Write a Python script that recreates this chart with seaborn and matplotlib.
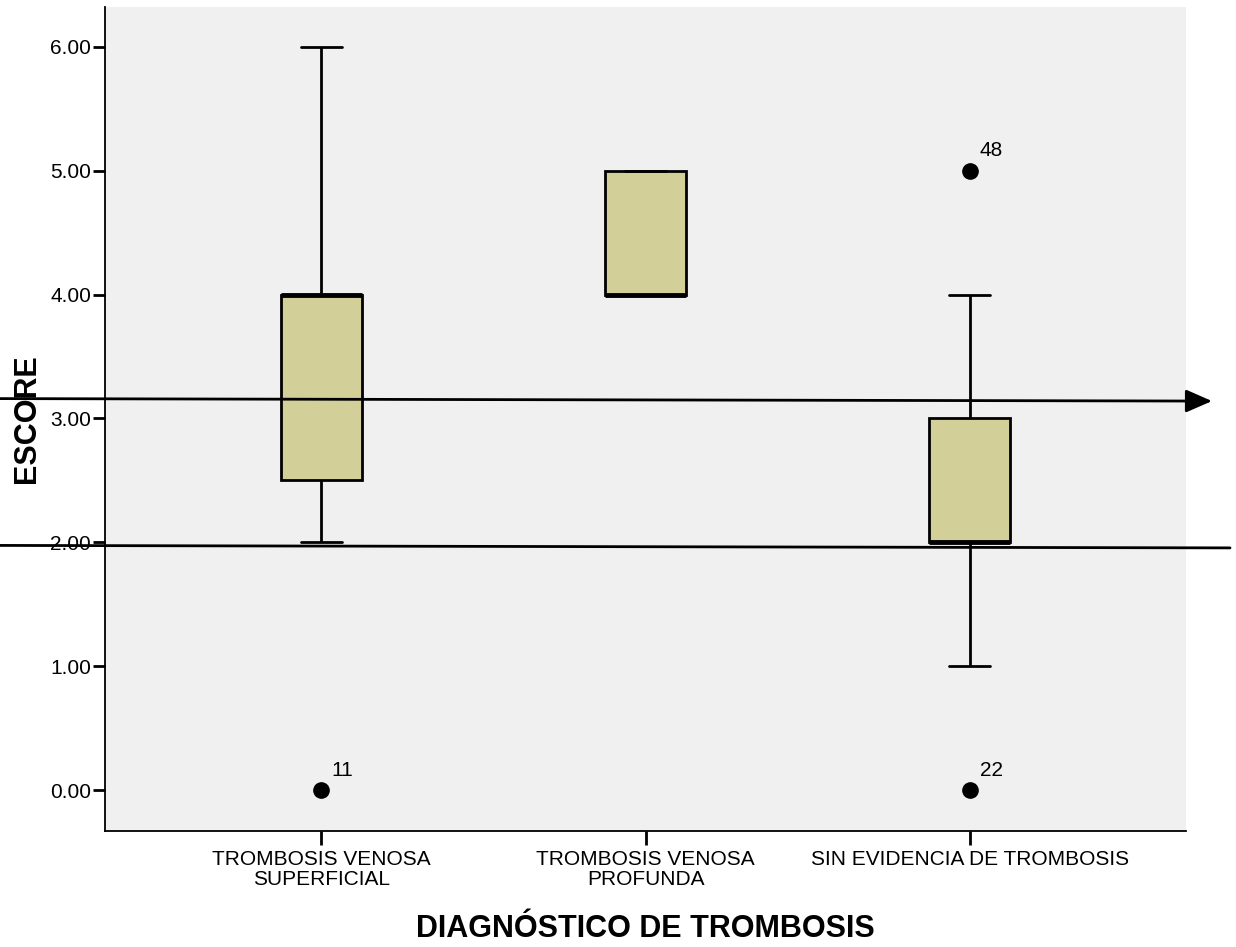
import pandas as pd
import numpy as np
import matplotlib
matplotlib.use("Agg")
import matplotlib.pyplot as plt
import matplotlib.ticker as mticker
import seaborn as sns

grupos = ["TROMBOSIS VENOSA\nSUPERFICIAL", "TROMBOSIS VENOSA\nPROFUNDA", "SIN EVIDENCIA DE TROMBOSIS"]
escore_superficial = [0, 2, 3, 4, 4, 4, 6]
escore_profunda = [4, 4, 4, 5, 5]
escore_sin_evidencia = [0, 1, 2, 2, 2, 2, 3, 3, 4, 5]

# casos atipicos etiquetados (grupo, valor, numero de caso)
atipicos_grupo = [0, 2, 2]
atipicos_valor = [0, 5, 0]
atipicos_caso = ["11", "48", "22"]

# lineas de referencia dibujadas encima (valor y a la izquierda, a la derecha)
flecha_y = [3.16, 3.14]
linea_y = [1.975, 1.955]

df = pd.DataFrame({
    "grupo": [grupos[0]] * len(escore_superficial) + [grupos[1]] * len(escore_profunda)
             + [grupos[2]] * len(escore_sin_evidencia),
    "escore": escore_superficial + escore_profunda + escore_sin_evidencia,
})

sns.set_style("white")
plt.rcParams["font.family"] = ["Liberation Sans", "DejaVu Sans"]
plt.rcParams["text.color"] = "black"
plt.rcParams["axes.labelcolor"] = "black"
plt.rcParams["xtick.color"] = "black"
plt.rcParams["ytick.color"] = "black"

fig = plt.figure(figsize=(12.36, 9.47), dpi=100)
ax = fig.add_axes([0.085, 0.1225, 0.8745, 0.870])
ax.set_facecolor("#f0f0f0")

sns.boxplot(
    data=df, x="grupo", y="escore", order=grupos, ax=ax,
    width=0.25, color="#d3cf98", saturation=1, whis=1.5,
    linecolor="black", linewidth=2,
    medianprops=dict(color="black", linewidth=3.5),
    flierprops=dict(marker="o", markerfacecolor="black", markeredgecolor="black", markersize=11),
)

for line in ax.lines:
    if line.get_marker() == "o":
        line.set_markerfacecolor("black")
        line.set_markeredgecolor("black")
        line.set_markersize(11)

for g, v, c in zip(atipicos_grupo, atipicos_valor, atipicos_caso):
    ax.annotate(c, (g, v), xytext=(10, 20), textcoords="offset pixels",
                fontsize=15, ha="left", va="center", color="black")

ax.set_xlim(-0.667, 2.667)
ax.set_ylim(-0.33, 6.32)
ax.yaxis.set_major_locator(mticker.MultipleLocator(1))
ax.yaxis.set_major_formatter(mticker.FormatStrFormatter("%.2f"))

for s in ["top", "right"]:
    ax.spines[s].set_visible(False)
for s in ["left", "bottom"]:
    ax.spines[s].set_color("black")
    ax.spines[s].set_linewidth(1.3)

ax.tick_params(axis="y", direction="out", length=9, width=2, pad=1, labelsize=15, left=True,
               colors="black")
ax.tick_params(axis="x", direction="out", length=10, width=2, pad=4, labelsize=15, bottom=True,
               colors="black")
for t in ax.get_xticklabels():
    t.set_linespacing(1.05)

ax.set_xlabel("DIAGNÓSTICO DE TROMBOSIS", fontsize=22, fontweight="bold", labelpad=18,
              color="black")
ax.set_ylabel("ESCORE", fontsize=22, fontweight="bold", labelpad=6, color="black")

# flecha y linea trazadas sobre el grafico
ax.annotate("", xy=(1212 / 1236, flecha_y[1]), xytext=(0, flecha_y[0]),
            xycoords=("figure fraction", "data"), textcoords=("figure fraction", "data"),
            arrowprops=dict(arrowstyle="-|>,head_length=0.8,head_width=0.35", color="black",
                            lw=2, shrinkA=0, shrinkB=0, mutation_scale=20),
            annotation_clip=False, zorder=10)
ax.annotate("", xy=(1230 / 1236, linea_y[1]), xytext=(0, linea_y[0]),
            xycoords=("figure fraction", "data"), textcoords=("figure fraction", "data"),
            arrowprops=dict(arrowstyle="-", color="black", lw=2, shrinkA=0, shrinkB=0),
            annotation_clip=False, zorder=10)

fig.savefig("out.png", dpi=100)
